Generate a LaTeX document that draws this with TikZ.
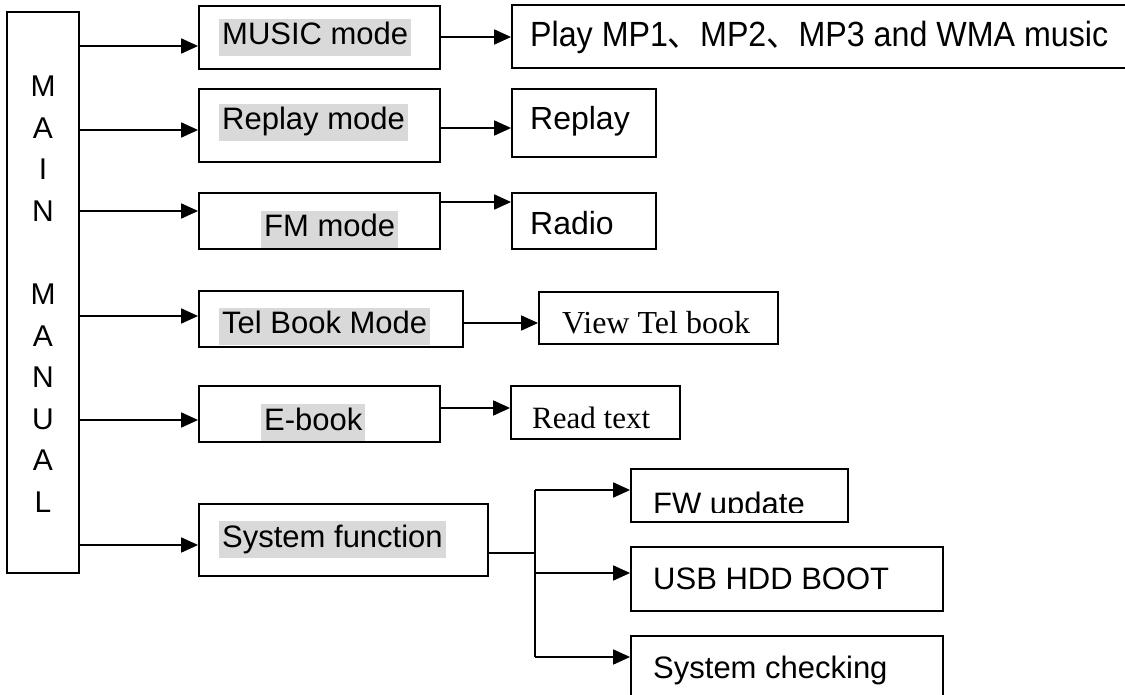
\documentclass[tikz,border=0pt]{standalone}
\usepackage{graphicx}
\usepackage{fontspec}
\setmainfont{Liberation Sans}
\newfontfamily\timesfont{Liberation Serif}
\newfontfamily\cjkfont{Noto Sans CJK SC}
\usetikzlibrary{arrows.meta}
\definecolor{hlgray}{RGB}{217,217,217}
\tikzset{
  box/.style={draw, line width=1.8pt, inner sep=0pt},
  lbl/.style={anchor=base west, inner sep=0pt, font=\fontsize{31}{37}\selectfont},
  hl/.style={lbl, fill=hlgray, inner xsep=3pt, inner ysep=1pt, text height=25pt, text depth=10pt},
  arr/.style={line width=1.8pt, -{Triangle[length=17pt,width=15pt]}},
  wire/.style={line width=1.8pt},
}
\begin{document}
\begin{tikzpicture}[x=1pt, y=-1pt]
  \useasboundingbox (0,0) rectangle (1125,695);
  \clip (0,0) rectangle (1125,695);
  % main column
  \node[box, minimum width=72pt, minimum height=561pt] (main) at (43,292.5) {};
  \foreach \ch [count=\i from 0] in {M,A,I,N,{},M,A,N,U,A,L}
    \node[anchor=base, inner sep=0pt, font=\fontsize{30}{36}\selectfont] (letter\i) at (43,97+41.5*\i) {\ch};
  % modes
  \node[box, minimum width=241pt, minimum height=63pt] (music) at (319.5,37.5) {};
  \node[box, minimum width=241pt, minimum height=73pt] (replay) at (319.5,125.5) {};
  \node[box, minimum width=241pt, minimum height=56pt] (fm) at (319.5,221) {};
  \node[box, minimum width=264pt, minimum height=56pt] (tel) at (331,319) {};
  \node[box, minimum width=241pt, minimum height=56pt] (ebook) at (319.5,414) {};
  \node[box, minimum width=289pt, minimum height=72pt] (sys) at (343.5,540) {};
  \node[hl] (musictxt) at (219,45) {MUSIC mode};
  \node[hl] (replaytxt) at (219,130) {Replay mode};
  \node[hl] (fmtxt) at (261,237) {FM mode};
  \node[hl] (teltxt) at (219,334) {Tel Book Mode};
  \node[hl] (ebooktxt) at (261,430) {E-book};
  \node[hl] (systxt) at (219,547) {System function};
  % functions
  \node[box, minimum width=623pt, minimum height=63pt] (play) at (823.5,36.5) {};
  \node[box, minimum width=144pt, minimum height=68pt] (replayout) at (584,123) {};
  \node[box, minimum width=144pt, minimum height=56pt] (radio) at (584,221) {};
  \node[box, minimum width=239pt, minimum height=52pt] (view) at (658.5,318) {};
  \node[box, minimum width=169pt, minimum height=53pt] (read) at (595.5,412.5) {};
  \node[box, minimum width=217pt, minimum height=53pt] (fw) at (739.5,495.5) {};
  \node[box, minimum width=312pt, minimum height=64pt] (usb) at (787,579) {};
  \node[box, minimum width=312pt, minimum height=69pt] (check) at (787,670.5) {};
  \node[lbl, font=\fontsize{35}{42}\selectfont] (playtxt) at (530,47)
    {\scalebox{0.92}[1]{Play MP1{\cjkfont 、}MP2{\cjkfont 、}MP3 and WMA music}};
  \node[lbl, font=\fontsize{32}{38}\selectfont] (replayouttxt) at (530,130) {Replay};
  \node[lbl, font=\fontsize{32}{38}\selectfont] (radiotxt) at (530,235) {Radio};
  \node[lbl, font=\fontsize{32}{38}\timesfont] (viewtxt) at (562,333) {View Tel book};
  \node[lbl, font=\fontsize{31}{37}\timesfont] (readtxt) at (532,428) {Read text};
  \begin{scope}
    \clip (631,469) rectangle (848,512);
    \node[lbl] (fwtxt) at (653,514) {FW update};
  \end{scope}
  \node[lbl] (usbtxt) at (653,589) {USB HDD BOOT};
  \node[lbl] (checktxt) at (653,678) {System checking};
  % main to modes
  \draw[arr] (main.east |- 0,46) -- (music.west |- 0,46);
  \draw[arr] (main.east |- 0,130) -- (replay.west |- 0,130);
  \draw[arr] (main.east |- 0,211) -- (fm.west |- 0,211);
  \draw[arr] (main.east |- 0,316) -- (tel.west |- 0,316);
  \draw[arr] (main.east |- 0,420) -- (ebook.west |- 0,420);
  \draw[arr] (main.east |- 0,545) -- (sys.west |- 0,545);
  % modes to functions
  \draw[arr] (music.east |- 0,37) -- (play.west |- 0,37);
  \draw[arr] (replay.east |- 0,128) -- (replayout.west |- 0,128);
  \draw[arr] (fm.east |- 0,202) -- (radio.west |- 0,202);
  \draw[arr] (tel.east |- 0,323) -- (view.west |- 0,323);
  \draw[arr] (ebook.east |- 0,408) -- (read.west |- 0,408);
  % system branch
  \coordinate (split) at (535,553);
  \coordinate (jtop) at (535,490);
  \coordinate (jbot) at (535,657);
  \draw[wire] (sys.east |- split) -- (split);
  \draw[wire] (jtop) -- (jbot);
  \draw[arr] (jtop) -- (fw.west |- jtop);
  \draw[arr] (split |- 0,573) -- (usb.west |- 0,573);
  \draw[arr] (jbot) -- (check.west |- jbot);
\end{tikzpicture}
\end{document}
